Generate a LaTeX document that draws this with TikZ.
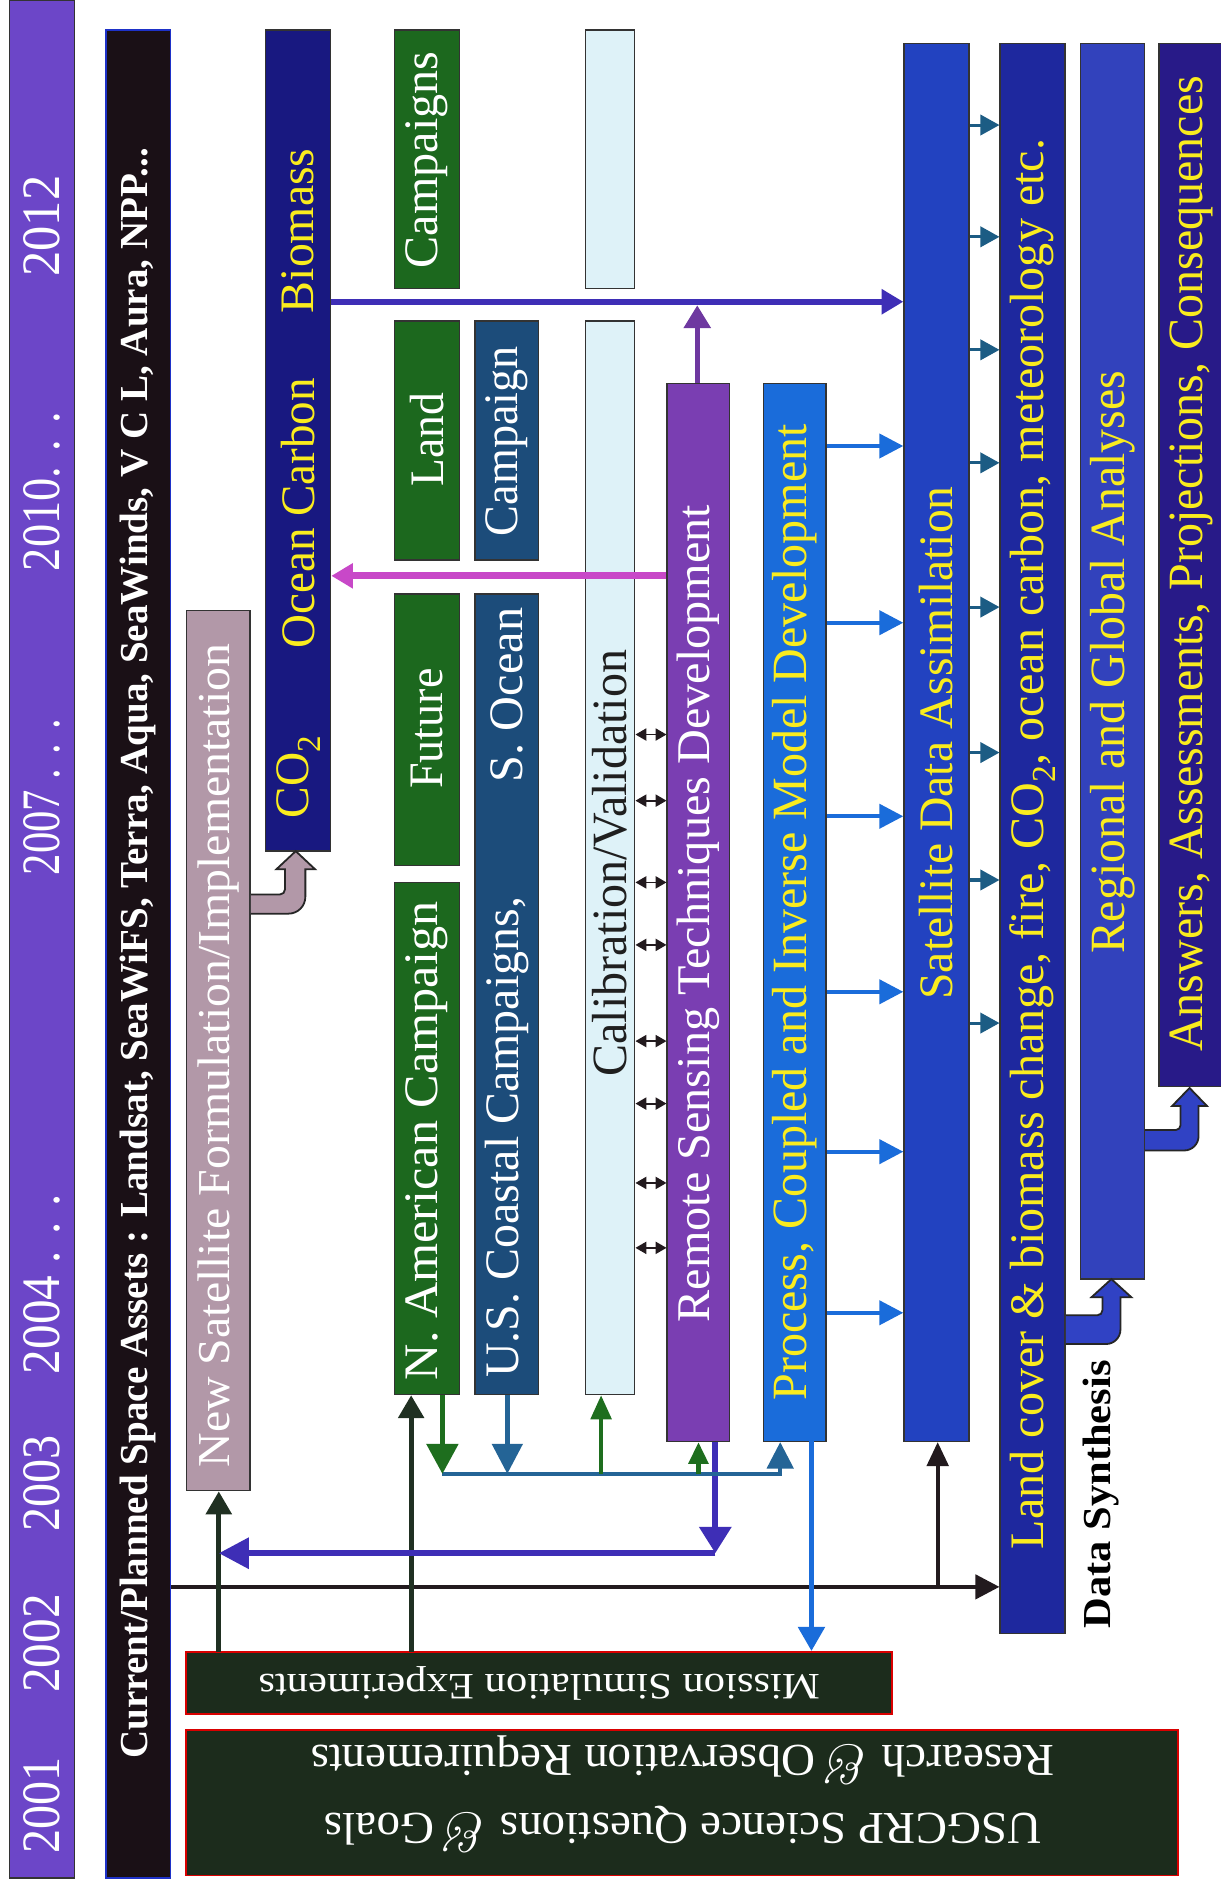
\documentclass[tikz,border=0pt]{standalone}
\usepackage{fontspec}
\newfontfamily\tnr{Liberation Serif}
\usetikzlibrary{arrows.meta,fit}
\definecolor{yearc}{RGB}{108,70,200}
\definecolor{spacec}{RGB}{26,16,22}
\definecolor{spaceb}{RGB}{30,50,200}
\definecolor{satc}{RGB}{178,152,168}
\definecolor{oceanc}{RGB}{24,24,128}
\definecolor{greenc}{RGB}{28,104,30}
\definecolor{steelc}{RGB}{28,76,122}
\definecolor{calc}{RGB}{222,242,248}
\definecolor{rsc}{RGB}{122,62,178}
\definecolor{procc}{RGB}{26,108,218}
\definecolor{assimc}{RGB}{34,66,192}
\definecolor{landc}{RGB}{30,40,158}
\definecolor{regc}{RGB}{50,66,188}
\definecolor{ansc}{RGB}{40,26,136}
\definecolor{missc}{RGB}{28,44,28}
\definecolor{yel}{RGB}{250,236,30}
\definecolor{magc}{RGB}{200,72,200}
\definecolor{indc}{RGB}{62,46,182}
\definecolor{tealc}{RGB}{28,92,132}
\definecolor{dgc}{RGB}{32,48,34}
\definecolor{grnarr}{RGB}{30,110,30}
\definecolor{busc}{RGB}{36,100,150}
\definecolor{linec}{RGB}{34,26,30}
\definecolor{hollowb}{RGB}{48,66,196}
\newsavebox\fitbox
\newcommand\fitlen[2]{\sbox\fitbox{#2}\pgfmathsetmacro\fitfac{#1/\the\wd\fitbox}\scalebox{\fitfac}[1]{\usebox\fitbox}}
\newcommand\fs[1]{\fontsize{#1}{#1}\selectfont}
\newcommand\hollowarrow[2]{\fill[#1] #2 -- cycle; \draw[line width=1.5pt,black!85] #2;}
\newcommand\amp{{\rmfamily\itshape\fontsize{46}{46}\selectfont\&}}
\begin{document}
\begin{tikzpicture}[x=1pt,y=-1pt,
  box/.style={draw=black!80,line width=1.2pt,inner sep=0pt},
  vt/.style={rotate=90,inner sep=0pt,anchor=center},
  ht/.style={rotate=180,inner sep=0pt,anchor=center},
  yr/.style={rotate=90,inner sep=0pt,anchor=center,text=white,font=\tnr\fs{45}}]
\useasboundingbox (0,0) rectangle (1015,1568);
\fill[white] (0,0) rectangle (1015,1568);
% boxes
\node[box,fill=yearc,fit={(8,0)(62,1562)}] (year) {};
\node[box,draw=spaceb,fill=spacec,fit={(88,25)(142,1562)}] (space) {};
\node[box,fill=satc,fit={(155,508)(208,1240)}] (newsat) {};
\node[box,fill=oceanc,fit={(221,25)(275,708)}] (ocean) {};
\node[box,fill=greenc,fit={(328,734)(382,1160)}] (nam) {};
\node[box,fill=greenc,fit={(328,494)(382,720)}] (future) {};
\node[box,fill=greenc,fit={(328,267)(382,466)}] (land) {};
\node[box,fill=greenc,fit={(328,25)(382,240)}] (camps) {};
\node[box,fill=steelc,fit={(395,494)(448,1160)}] (usc) {};
\node[box,fill=steelc,fit={(395,267)(448,466)}] (camp) {};
\node[box,fill=calc,fit={(487,267)(528,1160)}] (calval) {};
\node[box,fill=calc,fit={(487,25)(528,240)}] (calup) {};
\node[box,fill=rsc,fit={(555,319)(607,1199)}] (rs) {};
\node[box,fill=procc,fit={(635,319)(687,1199)}] (proc) {};
\node[box,fill=assimc,fit={(752,36)(806,1199)}] (assim) {};
\node[box,fill=landc,fit={(832,36)(886,1359)}] (landcov) {};
\node[box,fill=regc,fit={(899,36)(952,1064)}] (reg) {};
\node[box,fill=ansc,fit={(964,36)(1030,904)}] (ans) {};
\node[box,draw=red!85!black,line width=1.5pt,fill=missc,fit={(155,1374)(742,1426)}] (miss) {};
\node[box,draw=red!85!black,line width=1.5pt,fill=missc,fit={(155,1439)(980,1560)}] (usg) {};
% black line from space assets
\coordinate (jb) at (780,1320);
\draw[line width=3.5pt,linec,-{Triangle[length=20pt,width=20pt]}] (space.east |- jb) -- (landcov.west |- jb);
\draw[line width=3pt,linec,-{Triangle[length=20pt,width=18pt]}] (jb) -- (assim.south -| jb);
% dark green from mission
\coordinate (mg1) at (182,1374);
\coordinate (mg2) at (342,1374);
\draw[line width=4pt,dgc,-{Triangle[length=19pt,width=21pt]}] (mg1) -- (newsat.south -| mg1);
\draw[line width=4pt,dgc,-{Triangle[length=19pt,width=21pt]}] (mg2) -- (nam.south -| mg2);
% purple
\coordinate (pc) at (595,1292);
\coordinate (pl) at (182,1292);
\draw[line width=5pt,indc,-{Triangle[length=25pt,width=25pt]}] (pc) -- (pl);
\draw[line width=5pt,indc,-{Triangle[length=22pt,width=26pt]}] (rs.south -| pc) -- (pc);
% bus
\coordinate (b1) at (368,1226);
\coordinate (b2) at (649,1226);
\coordinate (b3) at (422,1226);
\coordinate (b4) at (500,1226);
\coordinate (b5) at (581,1226);
\draw[line width=3pt,busc,-{Triangle[length=22pt,width=22pt]}] (b1) -- (b2) -- (proc.south -| b2);
\draw[line width=4pt,grnarr,-{Triangle[length=25pt,width=26pt]}] (nam.south -| b1) -- (b1);
\draw[line width=4pt,busc,-{Triangle[length=25pt,width=25pt]}] (usc.south -| b3) -- (b3);
\draw[line width=3.5pt,grnarr,-{Triangle[length=20pt,width=17pt]}] (b4) -- (calval.south -| b4);
\draw[line width=4pt,grnarr,-{Triangle[length=18pt,width=16pt]}] (b5) -- (rs.south -| b5);
% process down to mission
\coordinate (pm) at (675,1199);
\draw[line width=3.5pt,procc,-{Triangle[length=20pt,width=22pt]}] (pm) -- (miss.north -| pm);
% process to assimilation
\foreach \yy in {371,518,679,825,958,1092}
  \draw[line width=3.5pt,procc,-{Triangle[length=20pt,width=20pt]}] (proc.east |- 0,\yy) -- (assim.west |- 0,\yy);
% assimilation to land cover
\foreach \yy in {104,197,291,385,505,626,732,851}
  \draw[line width=2.5pt,tealc,-{Triangle[length=16pt,width=17pt]}] (assim.east |- 0,\yy) -- (landcov.west |- 0,\yy);
% biomass
\coordinate (bm) at (580,251);
\coordinate (bmt) at (580,254);
\draw[line width=5pt,indc,-{Triangle[length=18pt,width=20pt]}] (ocean.east |- bm) -- (assim.west |- bm);
\draw[line width=4pt,rsc!90!black,-{Triangle[length=19pt,width=22pt]}] (rs.north -| bm) -- (bmt);
% magenta
\draw[line width=6pt,magc,-{Triangle[length=18pt,width=20pt]}] (rs.west |- 0,479) -- (ocean.east |- 0,479);
% double arrows
\foreach \yy in {611,666,734,786,866,918,984,1038}
  \draw[line width=1.5pt,linec,{Triangle[length=9pt,width=10pt]}-{Triangle[length=9pt,width=10pt]}] (calval.east |- 0,\yy) -- (rs.west |- 0,\yy);
% hollow bent arrows
\hollowarrow{satc}{(newsat.east |- 0,744) [rounded corners=4pt] -- (237,744) [sharp corners] -- (237,723) -- (230,723) -- (246,708) -- (262,723) -- (254,723) [rounded corners=14pt] -- (254,760) [sharp corners] -- (newsat.east |- 0,760)}
\hollowarrow{hollowb}{(landcov.east |- 0,1094) [rounded corners=4pt] -- (917,1094) [sharp corners] -- (917,1079) -- (908,1079) -- (924.5,1064) -- (941,1079) -- (932,1079) [rounded corners=12pt] -- (932,1118) [sharp corners] -- (landcov.east |- 0,1118)}
\hollowarrow{hollowb}{(reg.east |- 0,940) [rounded corners=4pt] -- (982,940) [sharp corners] -- (982,920) -- (975,920) -- (989.5,905) -- (1004,920) -- (997,920) [rounded corners=12pt] -- (997,957) [sharp corners] -- (reg.east |- 0,957)}
% year texts
\node[yr] (t01) at (year.center |- 0,1502) {\fitlen{80}{2001}};
\node[yr] (t02) at (year.center |- 0,1367) {\fitlen{82}{2002}};
\node[yr] (t03) at (year.center |- 0,1234) {\fitlen{80}{2003}};
\node[yr] (t04) at (year.center |- 0,1068) {\fitlen{150}{2004 . . .}};
\node[yr] (t07) at (year.center |- 0,663) {\fitlen{130}{2007 . . .}};
\node[yr] (t10) at (year.center |- 0,409) {\fitlen{132}{2010. . .}};
\node[yr] (t12) at (year.center |- 0,188) {\fitlen{84}{2012}};
% space assets
\node[vt,text=white,font=\tnr\bfseries\fs{33}] (tspace) at (space.center |- 0,793) {\fitlen{1340}{Current/Planned Space Assets : Landsat, SeaWiFS, Terra, Aqua, SeaWinds, V C L, Aura, NPP...}};
\node[vt,text=white,font=\tnr\fs{38}] (tsat) at (newsat.center |- 0,878) {\fitlen{685}{New Satellite Formulation/Implementation}};
\node[vt,text=yel,font=\tnr\fs{40}] (tco2) at (ocean.center |- 0,646) {\fitlen{69}{CO\textsubscript{2}}};
\node[vt,text=yel,font=\tnr\fs{40}] (toc) at (ocean.center |- 0,427) {\fitlen{225}{Ocean Carbon}};
\node[vt,text=yel,font=\tnr\fs{40}] (tbio) at (ocean.center |- 0,192) {\fitlen{137}{Biomass}};
\node[vt,text=white,font=\tnr\fs{40}] (tnam) at (nam.center |- 0,949) {\fitlen{398}{N. American Campaign}};
\node[vt,text=white,font=\tnr\fs{40}] (tfut) at (future.center |- 0,606) {\fitlen{100}{Future}};
\node[vt,text=white,font=\tnr\fs{40}] (tland) at (land.center |- 0,366) {\fitlen{78}{Land}};
\node[vt,text=white,font=\tnr\fs{40}] (tcamps) at (camps.center |- 0,133) {\fitlen{180}{Campaigns}};
\node[vt,text=white,font=\tnr\fs{40}] (tusc) at (usc.center |- 0,946) {\fitlen{400}{U.S. Coastal Campaigns,}};
\node[vt,text=white,font=\tnr\fs{40}] (tso) at (usc.center |- 0,578) {\fitlen{145}{S. Ocean}};
\node[vt,text=white,font=\tnr\fs{40}] (tcamp) at (camp.center |- 0,367) {\fitlen{158}{Campaign}};
\node[vt,text=black!88,font=\tnr\fs{41}] (tcal) at (calval.center |- 0,718) {\fitlen{355}{Calibration/Validation}};
\node[vt,text=white,font=\tnr\fs{39}] (trs) at (rs.center |- 0,760) {\fitlen{680}{Remote Sensing Techniques Development}};
\node[vt,text=yel,font=\tnr\fs{41}] (tproc) at (proc.center |- 0,759) {\fitlen{812}{Process, Coupled and Inverse Model Development}};
\node[vt,text=yel,font=\tnr\fs{40}] (tassim) at (assim.center |- 0,618) {\fitlen{427}{Satellite Data Assimilation}};
\node[vt,text=yel,font=\tnr\fs{40}] (tland2) at (landcov.center |- 0,702) {\fitlen{1173}{Land cover \& biomass change, fire, CO\textsubscript{2}, ocean carbon, meteorology etc.}};
\node[vt,text=yel,font=\tnr\fs{41}] (treg) at (reg.center |- 0,551) {\fitlen{485}{Regional and Global Analyses}};
\node[vt,text=yel,font=\tnr\fs{41}] (tans) at (991,469) {\fitlen{812}{Answers, Assessments, Projections, Consequences}};
\node[vt,text=black,font=\tnr\bfseries\fs{33}] (tds) at (916,1243) {\fitlen{223}{Data Synthesis}};
\node[ht,text=white,font=\tnr\fs{31}] (tmiss) at (miss.center) {\fitlen{467}{Mission Simulation Experiments}};
\node[ht,text=white,font=\tnr\fs{38}] (tusg1) at (568,1522) {\fitlen{596}{USGCRP Science Questions \amp{} Goals}};
\node[ht,text=white,font=\tnr\fs{38}] (tusg2) at (568,1464) {\fitlen{619}{Research \amp{} Observation Requirements}};
\end{tikzpicture}
\end{document}
